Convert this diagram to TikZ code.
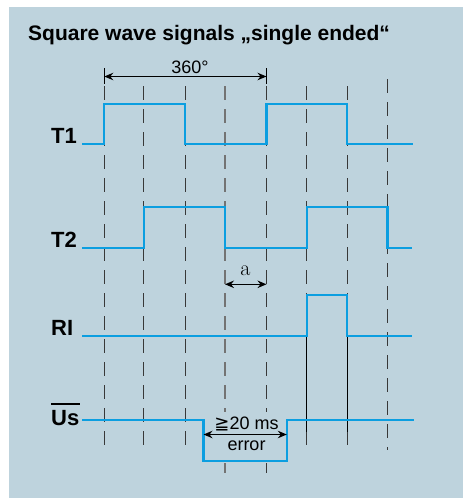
\documentclass[tikz,border=0pt]{standalone}
\usepackage{fontspec}
\newfontfamily\arialf{Liberation Sans}
\newfontfamily\dejavu{DejaVu Sans}
\newfontfamily\lmfont{Latin Modern Roman}
\usetikzlibrary{arrows.meta}
\definecolor{bgc}{RGB}{190,211,221}
\definecolor{sig}{RGB}{12,158,224}
\begin{document}
\begin{tikzpicture}[x=1pt,y=-1pt,
  signal/.style={sig, line width=2.2pt, line join=miter},
  gridline/.style={black!78, line width=0.9pt, dash pattern=on 14pt off 9pt},
  solidline/.style={black, line width=1pt},
  dimarrow/.style={black, line width=1.2pt,
     {Stealth[length=9pt,width=7.5pt,inset=3pt]}-{Stealth[length=9pt,width=7.5pt,inset=3pt]}},
  tick/.style={black, line width=0.9pt},
  siglabel/.style={font=\arialf\bfseries\fontsize{22}{22}\selectfont, anchor=base west, inner sep=0pt},
  dimlabel/.style={font=\arialf\fontsize{18}{18}\selectfont, anchor=base, inner sep=0pt}
]
\useasboundingbox (0,0) rectangle (470,498);
\fill[bgc] (9,7) rectangle (463,498);

% title
\node[anchor=base west, inner sep=0pt, font=\arialf\bfseries\fontsize{21}{21}\selectfont] (title) at (28,40) {Square wave signals „single ended“};

% dashed grid
\foreach \x in {104.3,143.8,185.3,306.7,347.3}
  \draw[gridline] (\x,86) -- (\x,450);
\draw[gridline] (387.5,79) -- (387.5,450);
\draw[gridline] (266.5,86) -- (266.5,412);
\draw[gridline] (266.5,463) -- (266.5,473);
\draw[gridline, black!55, line width=1.3pt] (225,86) -- (225,412);
\draw[gridline, black!55, line width=1.3pt] (225,463) -- (225,473);

% solid black lines between RI and Us
\draw[solidline] (306.7,336) -- (306.7,432);
\draw[solidline] (347.3,336) -- (347.3,432);

% signals
\draw[signal] (82,144) -- (104.3,144) -- (104.3,104) -- (185.3,104) -- (185.3,144) -- (266.5,144) -- (266.5,104) -- (347.3,104) -- (347.3,144) -- (412.5,144);
\draw[signal] (82,247.7) -- (143.8,247.7) -- (143.8,207.3) -- (225,207.3) -- (225,247.7) -- (306.7,247.7) -- (306.7,207.3) -- (387.5,207.3) -- (387.5,247.7) -- (412.3,247.7);
\draw[signal] (82,335.7) -- (306.7,335.7) -- (306.7,295.3) -- (347.3,295.3) -- (347.3,335.7) -- (412.3,335.7);
\draw[signal] (82,420) -- (203.5,420) -- (203.5,461) -- (286.8,461) -- (286.8,420) -- (414,420);

% signal labels
\node[siglabel] (t1) at (51,143.5) {T1};
\node[siglabel] (t2) at (51,247.5) {T2};
\node[siglabel] (ri) at (51,335) {RI};
\node[siglabel] (us) at (51,425) {Us};
\draw[black, line width=1.8pt] ([yshift=6pt]us.north west) -- ([yshift=6pt]us.north east);

% 360 degree dimension
\coordinate (p360a) at (104.3,76.5);
\coordinate (p360b) at (266.5,76.5);
\draw[tick] (104.3,68) -- (104.3,84);
\draw[tick] (266.5,68) -- (266.5,84);
\draw[dimarrow] (p360a) -- (p360b);
\node[dimlabel] (l360) at (190,73.3) {360°};

% a dimension
\coordinate (pa1) at (225,284.3);
\coordinate (pa2) at (266.5,284.3);
\draw[dimarrow] (pa1) -- (pa2);
\node[font=\lmfont\fontsize{22}{22}\selectfont, anchor=base, inner sep=0pt] (la) at (245.5,275.7) {a};

% error dimension
\coordinate (pe1) at (203.5,434.5);
\coordinate (pe2) at (286.8,434.5);
\draw[dimarrow] (pe1) -- (pe2);
\node[dimlabel] (l20) at (246.5,429) {{\dejavu ≧}20 ms};
\node[dimlabel] (lerr) at (246.5,450.5) {error};
\end{tikzpicture}
\end{document}
